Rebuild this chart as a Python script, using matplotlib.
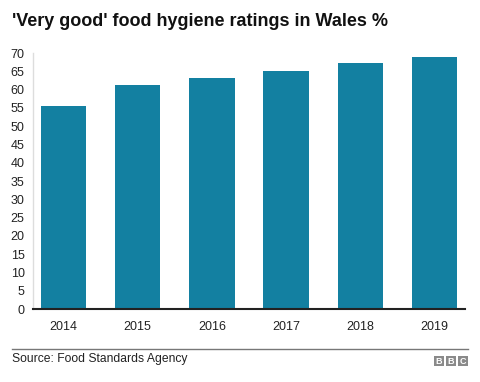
import matplotlib.pyplot as plt
from matplotlib.patches import Rectangle
from matplotlib.lines import Line2D

years = ['2014', '2015', '2016', '2017', '2018', '2019']
very_good = [55.5, 61.2, 63.2, 65.2, 67.4, 68.8]
yticks = list(range(0, 75, 5))

plt.rcParams['font.family'] = ['Liberation Sans', 'DejaVu Sans']

fig = plt.figure(figsize=(4.8, 3.82), dpi=100)
ax = fig.add_axes([33 / 480, 1 - 309 / 382, 432 / 480, 256 / 382])

ax.bar(range(len(years)), very_good, width=0.61, color='#1380a1', zorder=2)
ax.set_xlim(-0.41, len(years) - 0.59)
ax.set_ylim(0, 70)
ax.set_yticks(yticks)
ax.set_xticks(range(len(years)))
ax.set_xticklabels(years)
ax.tick_params(axis='both', length=0, labelsize=9, colors='#222222')
ax.tick_params(axis='y', pad=6)
ax.tick_params(axis='x', pad=9)

for s in ['top', 'right']:
    ax.spines[s].set_visible(False)
ax.spines['left'].set_color('#dddddd')
ax.spines['left'].set_linewidth(1)
ax.spines['bottom'].set_color('#222222')
ax.spines['bottom'].set_linewidth(1.5)
ax.spines['bottom'].set_zorder(3)

fig.text(12 / 480, 1 - 22 / 382, "'Very good' food hygiene ratings in Wales %",
         fontsize=13, fontweight='bold', va='center', ha='left', color='#111111')

fig.add_artist(Line2D([12 / 480, 468 / 480], [1 - 349 / 382] * 2,
                      color='#777777', linewidth=1, transform=fig.transFigure))
fig.text(12 / 480, 1 - 359 / 382, 'Source: Food Standards Agency',
         fontsize=8.7, va='center', ha='left', color='#222222')

# BBC logo
for i, letter in enumerate('BBC'):
    x0 = (434 + i * 12) / 480
    fig.add_artist(Rectangle((x0, 1 - 366 / 382), 10 / 480, 10 / 382,
                             transform=fig.transFigure, color='#8a8a8a', lw=0))
    fig.text(x0 + 5 / 480, 1 - 361 / 382, letter, fontsize=6.5, fontweight='bold',
             color='white', ha='center', va='center')

fig.savefig('out.png', dpi=100)
